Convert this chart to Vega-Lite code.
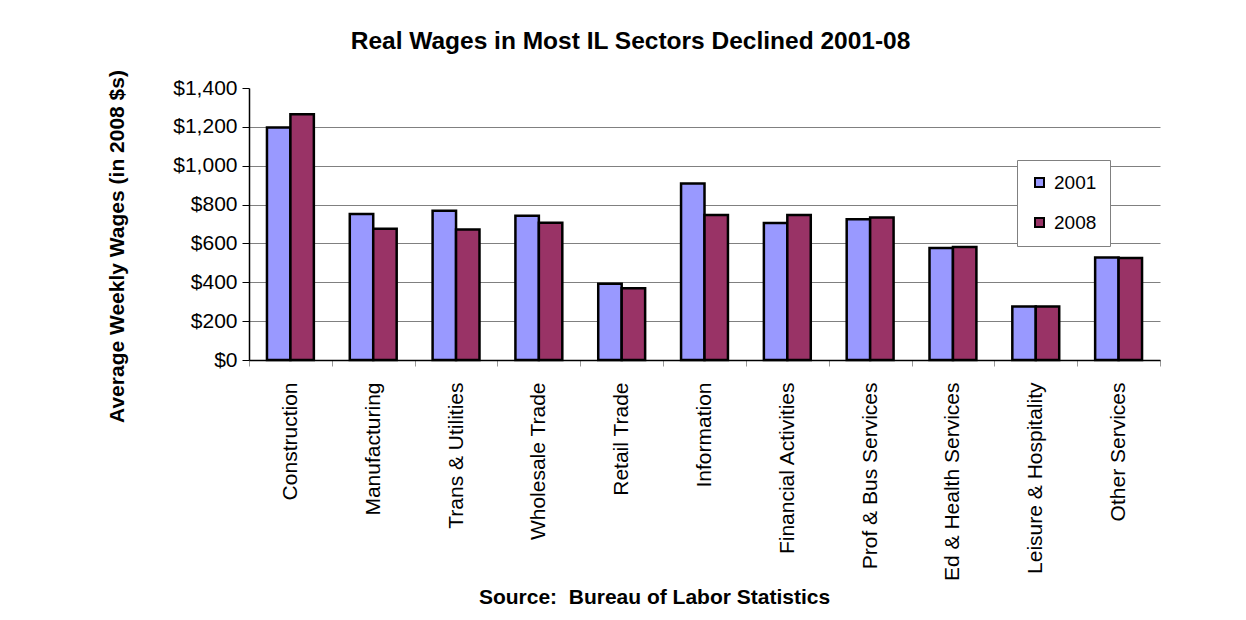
{
  "$schema": "https://vega.github.io/schema/vega-lite/v6.json",
  "autosize": {"type": "none"},
  "width": 911,
  "height": 272,
  "padding": {"left": 249, "top": 88, "right": 86, "bottom": 260},
  "background": "white",
  "config": {"font": "Liberation Sans", "view": {"stroke": null}},
  "title": {
    "text": "Real Wages in Most IL Sectors Declined 2001-08",
    "fontSize": 24.5,
    "fontWeight": "bold",
    "color": "black",
    "dx": -74,
    "offset": 15
  },
  "data": {
    "values": [
      {"sector": "Construction", "year": "2001", "wage": 1197},
      {"sector": "Construction", "year": "2008", "wage": 1265},
      {"sector": "Manufacturing", "year": "2001", "wage": 751},
      {"sector": "Manufacturing", "year": "2008", "wage": 675},
      {"sector": "Trans & Utilities", "year": "2001", "wage": 768},
      {"sector": "Trans & Utilities", "year": "2008", "wage": 672},
      {"sector": "Wholesale Trade", "year": "2001", "wage": 742},
      {"sector": "Wholesale Trade", "year": "2008", "wage": 706},
      {"sector": "Retail Trade", "year": "2001", "wage": 392},
      {"sector": "Retail Trade", "year": "2008", "wage": 369},
      {"sector": "Information", "year": "2001", "wage": 909},
      {"sector": "Information", "year": "2008", "wage": 746},
      {"sector": "Financial Activities", "year": "2001", "wage": 705},
      {"sector": "Financial Activities", "year": "2008", "wage": 746},
      {"sector": "Prof & Bus Services", "year": "2001", "wage": 725},
      {"sector": "Prof & Bus Services", "year": "2008", "wage": 734},
      {"sector": "Ed & Health Services", "year": "2001", "wage": 576},
      {"sector": "Ed & Health Services", "year": "2008", "wage": 581},
      {"sector": "Leisure & Hospitality", "year": "2001", "wage": 276},
      {"sector": "Leisure & Hospitality", "year": "2008", "wage": 276},
      {"sector": "Other Services", "year": "2001", "wage": 528},
      {"sector": "Other Services", "year": "2008", "wage": 525}
    ]
  },
  "mark": {"type": "bar", "stroke": "black", "strokeWidth": 2.5},
  "encoding": {
    "x": {
      "field": "sector",
      "type": "nominal",
      "sort": null,
      "scale": {"paddingInner": 0, "paddingOuter": 0},
      "axis": {
        "labelAngle": -90,
        "labelFontSize": 21,
        "labelColor": "black",
        "labelPadding": 16,
        "labelLimit": 0,
        "tickBand": "extent",
        "tickColor": "#999999",
        "tickSize": 6,
        "domainColor": "black",
        "domainWidth": 1.5,
        "title": "Source:\u00a0 Bureau of Labor Statistics",
        "titleFontSize": 21,
        "titleFontWeight": "bold",
        "titleColor": "black",
        "titleX": 405,
        "titleY": 237,
        "titleAlign": "center",
        "titleBaseline": "middle"
      }
    },
    "xOffset": {
      "field": "year",
      "type": "nominal",
      "scale": {"paddingInner": 0, "paddingOuter": 0.766}
    },
    "y": {
      "field": "wage",
      "type": "quantitative",
      "scale": {"domain": [0, 1400], "nice": false},
      "axis": {
        "values": [0, 200, 400, 600, 800, 1000, 1200, 1400],
        "format": "$,.0f",
        "labelFontSize": 21,
        "labelColor": "black",
        "labelPadding": 5,
        "tickSize": 7,
        "tickColor": "black",
        "domainColor": "black",
        "domainWidth": 1.5,
        "gridColor": "#808080",
        "gridWidth": 1,
        "gridOpacity": {"condition": {"test": "datum.value === 1400", "value": 0}, "value": 1},
        "title": "Average Weekly Wages (in 2008 $s)",
        "titleFontSize": 21,
        "titleFontWeight": "bold",
        "titleColor": "black",
        "titleX": -132,
        "titleY": 158,
        "titleAngle": -90,
        "titleAlign": "center",
        "titleBaseline": "middle"
      }
    },
    "color": {
      "field": "year",
      "type": "nominal",
      "scale": {"domain": ["2001", "2008"], "range": ["#9999FF", "#993366"]},
      "legend": {
        "title": null,
        "orient": "none",
        "legendX": 768,
        "legendY": 72,
        "fillColor": "white",
        "strokeColor": "#808080",
        "padding": 13,
        "labelFontSize": 19,
        "labelColor": "black",
        "labelOffset": 5,
        "symbolType": "square",
        "symbolSize": 81,
        "symbolStrokeColor": "black",
        "symbolStrokeWidth": 2,
        "symbolOpacity": 1,
        "rowPadding": 20
      }
    }
  }
}
